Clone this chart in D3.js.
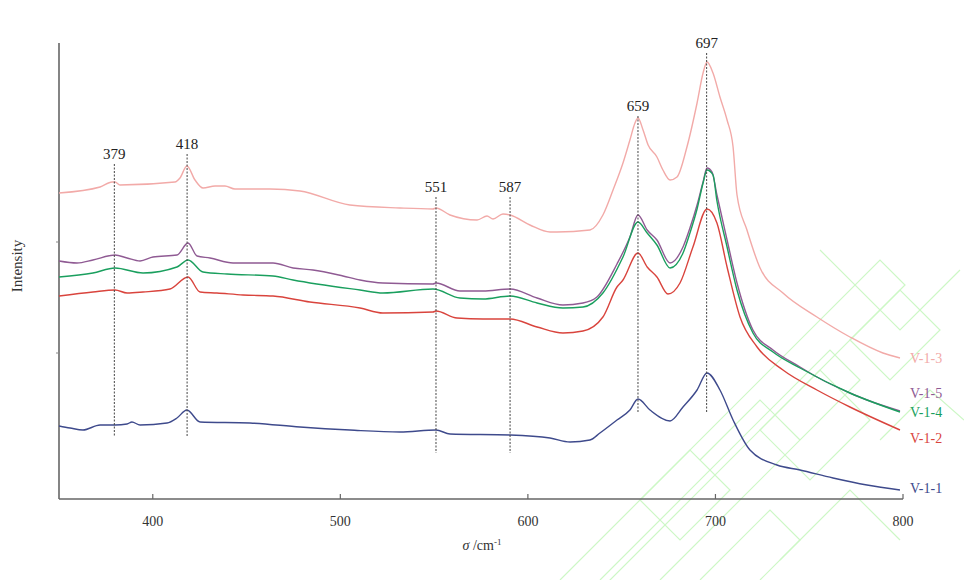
<!DOCTYPE html>
<html><head><meta charset="utf-8">
<script src="https://cdn.jsdelivr.net/npm/d3@7/dist/d3.min.js"></script>
<style>body{margin:0;background:#fff;}svg{display:block;font-family:"Liberation Serif","Times New Roman",serif;}</style>
</head><body>
<svg id="chart" width="964" height="580"></svg>
<script>
// ---- data: [wavenumber (cm-1), relative intensity] ----
const v13 = [[350,306],[371.9,312],[378.3,317],[379.9,317],[382.5,314],[411.8,317],[414.5,321],[418.2,333],[422.5,319],[426.8,311],[433.2,313],[438.5,313],[443.8,310],[462.5,310],[478.5,308],[505.1,294],[531.8,291],[549.4,290],[551,291],[558.5,284],[572.9,279],[578.2,283],[581.4,280],[586.7,285],[590.5,284],[601.1,274],[611.8,267],[615.5,267],[633.1,269],[640,284],[645.4,309],[650.7,336],[654.4,359],[657.1,376],[658.7,381],[661.4,369],[664.1,354],[668.8,342],[672,329],[675.8,319],[679.5,322],[684.8,352],[690.2,396],[693.4,426],[695.5,437],[698.7,426],[702.4,402],[706.2,379],[709.4,352],[711.5,304],[716.8,269],[723.8,231],[736,206],[754.1,182],[771.7,162],[789.3,146],[798.4,141]];
const v15 = [[350,238],[359.6,236],[368.1,239],[379.9,244],[386.3,241],[393.2,238],[400.1,242],[412.9,244],[418.8,256],[423.6,243],[430.5,241],[442.8,236],[464.1,236],[474.8,231],[485.4,229],[501.4,223],[510.5,219],[522.7,216],[549.4,215],[551,216],[563.8,208],[576.1,208],[590.5,210],[604.9,201],[618.7,194],[629.4,196],[636.8,202],[647.5,235],[654.4,262],[658.7,284],[663.6,269],[668.8,259],[675.8,236],[682.7,252],[686.4,271],[690.2,294],[693.4,317],[695.5,331],[698.2,327],[700.8,304],[706.2,259],[711.5,216],[720,169],[730.7,149],[745.1,132],[754.1,122],[771.7,106],[780.8,99],[798.4,88]];
const v14 = [[350,222],[368.1,226],[379.9,231],[394.8,226],[412.9,232],[418.8,239],[426.8,227],[439.6,225],[464.1,223],[474.8,219],[510.5,209],[522.7,206],[549.4,210],[563.8,201],[576.1,200],[590.5,203],[604.9,196],[618.7,191],[629.4,192],[640,206],[650.7,242],[658.7,277],[663.6,266],[668.8,254],[675.8,231],[682.7,246],[686.4,266],[690.2,290],[693.4,316],[695.5,329],[698.7,324],[700.8,298],[706.2,252],[711.5,209],[720,166],[730.7,147],[745.1,131],[771.7,106],[798.4,87]];
const v12 = [[350,203],[368.1,207],[379.9,209],[386.3,206],[394.8,207],[409.2,210],[418.8,222],[425.2,207],[434.2,206],[448.1,204],[464.1,203],[483.8,197],[510.5,191],[522.7,186],[549.4,187],[551,188],[562.2,181],[576.1,180],[590.5,180],[604.9,172],[618.7,166],[629.4,168],[640,182],[647.5,212],[650.7,219],[658.7,246],[663.6,232],[668.8,222],[674.7,205],[681.1,216],[688,252],[695.5,290],[700.8,276],[706.2,232],[713.1,182],[722.2,152],[736,129],[754.1,109],[771.7,92],[798.4,69]];
const v11 = [[350,73],[355.9,71],[362.8,69],[371.9,74],[379.9,74],[386.3,75],[388.9,77],[393.2,74],[407.6,76],[412.9,81],[418.2,89],[425.2,77],[451.8,76],[478.5,72],[505.1,69],[531.8,67],[551,69],[558.5,65],[590.5,64],[611.8,61],[622.5,57],[633.1,59],[638.4,66],[647.5,79],[654.4,89],[658.7,100],[665.1,89],[675.8,78],[682.7,92],[690.2,109],[695.5,126],[702.4,109],[709.4,79],[718.4,49],[732.8,34],[745.1,29],[762.7,21],[780.8,14],[798.4,9]];

const seriesNames  = ["V-1-3","V-1-5","V-1-4","V-1-2","V-1-1"];
const seriesData   = [v13, v15, v14, v12, v11];
const seriesColors = ["#f2aaa8","#8f5a93","#1a9f5e","#d9443d","#3e4a8c"];
const labelY       = [141, 106, 87, 61, 11];   // label anchor intensity at right edge

const peakLabels = ["379","418","551","587","659","697"];
const peakPos    = [379.5, 418.3, 551, 590.5, 658.7, 695.3];
const peakTop    = [335, 345, 302, 302, 383, 446];
const peakBottom = [62, 62, 46, 46, 86, 86];

const xTicks = [400,500,600,700,800];
const yTicks = [146, 257];

// ---- layout ----
const svg = d3.select("#chart");
const x = d3.scaleLinear().domain([350,800]).range([59,903]);
const y = d3.scaleLinear().domain([0,456]).range([499,43]);

// watermark (decoration)
const wm = svg.append("g").attr("fill","none").attr("stroke","#cdf7c6").attr("stroke-width",1.2);
const wmPaths = [
 "M560,580 L880,260 L905,285 L585,605",
 "M600,580 L830,350 L860,380 L660,580",
 "M700,580 L770,510 L800,540 L760,580",
 "M640,500 L690,450 L730,490 L680,540 Z",
 "M760,430 L820,370 L870,420 L810,480 Z",
 "M850,340 L900,290 L940,330 L890,380 Z",
 "M820,250 L900,330 L960,270",
 "M700,460 L760,400 L800,440",
 "M880,440 L930,390 L964,420",
 "M780,560 L850,490 L900,540"
];
wm.selectAll("path").data(wmPaths).join("path").attr("d", d=>d);

// axes
svg.append("line").attr("x1",59).attr("x2",59).attr("y1",y.range()[1]).attr("y2",y.range()[0]).attr("stroke","#666").attr("stroke-width",1.6);
svg.append("line").attr("x1",x.range()[0]).attr("x2",x.range()[1]).attr("y1",499).attr("y2",499).attr("stroke","#666").attr("stroke-width",1.6);

svg.append("g").selectAll("line").data(xTicks).join("line")
  .attr("x1",d=>x(d)).attr("x2",d=>x(d)).attr("y1",499).attr("y2",494).attr("stroke","#666").attr("stroke-width",1.2);
svg.append("g").selectAll("text").data(xTicks).join("text")
  .attr("x",d=>x(d)).attr("y",526).attr("text-anchor","middle").attr("font-size",14).attr("fill","#333").text(d=>d);
svg.append("g").selectAll("line").data(yTicks).join("line")
  .attr("x1",56).attr("x2",59).attr("y1",d=>y(d)).attr("y2",d=>y(d)).attr("stroke","#888").attr("stroke-width",1);

// axis titles
svg.append("text").attr("transform","translate(22,266) rotate(-90)").attr("text-anchor","middle")
  .attr("font-size",15).attr("fill","#333").text("Intensity");
const xt = svg.append("text").attr("x",482).attr("y",550).attr("text-anchor","middle").attr("font-size",14).attr("fill","#333");
xt.append("tspan").attr("font-style","italic").text("σ");
xt.append("tspan").text(" /cm");
xt.append("tspan").attr("font-size",9).attr("dy",-5).text("-1");

// curves
const line = d3.line().x(d=>x(d[0])).y(d=>y(d[1])).curve(d3.curveMonotoneX);
svg.append("g").selectAll("path").data(seriesData).join("path")
  .attr("d", line).attr("fill","none")
  .attr("stroke",(d,i)=>seriesColors[i]).attr("stroke-width",1.4).attr("stroke-linejoin","round");

// peak markers
const pk = svg.append("g");
pk.selectAll("line").data(peakPos).join("line")
  .attr("x1",d=>x(d)).attr("x2",d=>x(d))
  .attr("y1",(d,i)=>y(peakTop[i])).attr("y2",(d,i)=>y(peakBottom[i]))
  .attr("stroke","#444").attr("stroke-width",1).attr("stroke-dasharray","2,1.5");
pk.selectAll("text").data(peakLabels).join("text")
  .attr("x",(d,i)=>x(peakPos[i])).attr("y",(d,i)=>y(peakTop[i])-5)
  .attr("text-anchor","middle").attr("font-size",15).attr("fill","#222").text(d=>d);

// series labels
svg.append("g").selectAll("text").data(seriesNames).join("text")
  .attr("x",910).attr("y",(d,i)=>y(labelY[i])+5)
  .attr("font-size",14).attr("fill",(d,i)=>seriesColors[i]).text(d=>d);
</script>
</body></html>
